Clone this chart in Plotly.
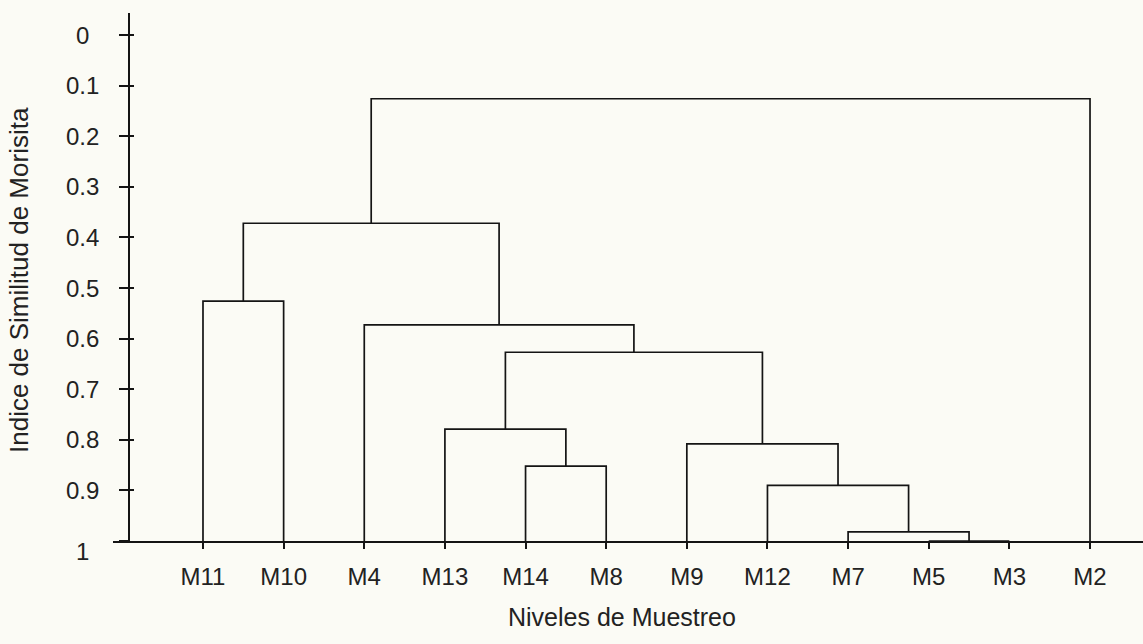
import plotly.graph_objects as go

# Sampling levels (dendrogram leaf order, left to right)
leaves = ["M11", "M10", "M4", "M13", "M14", "M8", "M9", "M12", "M7", "M5", "M3", "M2"]

# Agglomeration steps: node ids 0..11 are leaves, each merge creates node 12, 13, ...
merge_left = [9, 8, 7, 4, 6, 3, 17, 2, 0, 20, 21]
merge_right = [10, 12, 13, 5, 14, 15, 16, 18, 1, 19, 11]
merge_similarity = [1.0, 0.982, 0.89, 0.852, 0.808, 0.779, 0.627, 0.573, 0.526, 0.372, 0.126]

# Y axis ticks (Morisita similarity index)
y_ticks = [0, 0.1, 0.2, 0.3, 0.4, 0.5, 0.6, 0.7, 0.8, 0.9, 1]
y_tick_text = ["0", "0.1", "0.2", "0.3", "0.4", "0.5", "0.6", "0.7", "0.8", "0.9", "1"]

FONT = "Liberation Sans, Arial, Helvetica, sans-serif"
INK = "#141414"
TEXT = "#222222"
BG = "#fbfbf5"

# Node positions: leaves sit at integer x with similarity 1; merges sit midway between children
node_x = {i: float(i) for i in range(len(leaves))}
node_h = {i: 1.0 for i in range(len(leaves))}

xs, ys = [], []
for k, (a, b, h) in enumerate(zip(merge_left, merge_right, merge_similarity)):
    nid = len(leaves) + k
    xa, xb = node_x[a], node_x[b]
    xs += [xa, xa, xb, xb, None]
    ys += [node_h[a], h, h, node_h[b], None]
    node_x[nid] = (xa + xb) / 2
    node_h[nid] = h

fig = go.Figure()
fig.add_trace(go.Scatter(
    x=xs, y=ys, mode="lines",
    line=dict(color=INK, width=1.7),
    hoverinfo="skip", showlegend=False,
))
# invisible trace bound to the secondary y axis so its crossing ticks render
fig.add_trace(go.Scatter(x=[0], y=[1], yaxis="y2", mode="markers",
                         marker=dict(opacity=0), hoverinfo="skip", showlegend=False))

plot_left, plot_right = 113, 1143
plot_top, plot_bottom = 13, 541
yaxis_px = 129
ypos = (yaxis_px - plot_left) / (plot_right - plot_left)


def px_x(p):
    return (p - plot_left) / (plot_right - plot_left)


def px_y(p):
    return (plot_bottom - p) / (plot_bottom - plot_top)


y_range = [1.0, -0.0435]

fig.update_layout(
    width=1143, height=644,
    margin=dict(l=plot_left, r=0, t=plot_top, b=644 - plot_bottom),
    paper_bgcolor=BG, plot_bgcolor=BG,
    font=dict(family=FONT, size=24, color=TEXT),
    xaxis=dict(
        range=[-1.116, 11.657],
        tickmode="array", tickvals=list(range(len(leaves))), ticktext=leaves,
        ticks="outside", ticklen=6, tickwidth=1.5, tickcolor=INK,
        showline=True, linecolor=INK, linewidth=1.5,
        showgrid=False, zeroline=False,
        tickfont=dict(family=FONT, size=24, color=TEXT),
        ticklabelstandoff=7,
    ),
    yaxis=dict(
        range=y_range, anchor="free", position=ypos,
        tickmode="array", tickvals=y_ticks, showticklabels=False,
        ticks="outside", ticklen=9, tickwidth=1.5, tickcolor=INK,
        showline=True, linecolor=INK, linewidth=1.5,
        showgrid=False, zeroline=False,
    ),
    yaxis2=dict(
        range=y_range, anchor="free", position=ypos, overlaying="y",
        tickmode="array", tickvals=y_ticks, showticklabels=False,
        ticks="inside", ticklen=4, tickwidth=1.5, tickcolor=INK,
        showline=False, showgrid=False, zeroline=False,
    ),
)

# Centered y tick labels; the bottom one is nudged clear of the x axis line
for v, t in zip(y_ticks, y_tick_text):
    fig.add_annotation(x=px_x(82), xref="paper", y=v, yref="y", text=t,
                       showarrow=False, xanchor="center", yanchor="middle",
                       yshift=-10 if v == max(y_ticks) else 0,
                       font=dict(family=FONT, size=24, color=TEXT))

# Axis titles
fig.add_annotation(x=px_x(622), xref="paper", y=px_y(617), yref="paper",
                   text="Niveles de Muestreo", showarrow=False,
                   xanchor="center", yanchor="middle",
                   font=dict(family=FONT, size=25, color=TEXT))
fig.add_annotation(x=px_x(19), xref="paper", y=px_y(280), yref="paper",
                   text="Indice de Similitud de Morisita", showarrow=False,
                   textangle=-90, xanchor="center", yanchor="middle",
                   font=dict(family=FONT, size=26, color=TEXT))

fig.write_html("out.html")
